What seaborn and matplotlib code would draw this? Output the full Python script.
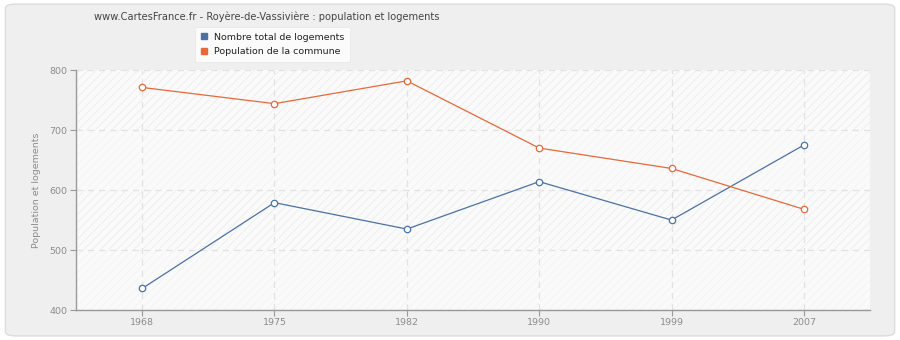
import matplotlib
matplotlib.use("Agg")
import matplotlib.pyplot as plt
from matplotlib.patches import FancyBboxPatch
from matplotlib.lines import Line2D
import seaborn as sns
import pandas as pd

years = ["1968", "1975", "1982", "1990", "1999", "2007"]
logements = [436, 579, 535, 614, 550, 675]
population = [771, 744, 782, 670, 636, 568]

series_names = ["Nombre total de logements", "Population de la commune"]
colors = ["#4a72a6", "#e8683a"]

sns.set_theme(style="white")
plt.rcParams["font.family"] = ["DejaVu Sans"]
plt.rcParams["hatch.linewidth"] = 0.5

fig = plt.figure(figsize=(9, 3.4), dpi=100, facecolor="white")
fig.patches.append(FancyBboxPatch((0.006, 0.012), 0.988, 0.976,
                                  boxstyle="round,pad=0,rounding_size=0.012",
                                  transform=fig.transFigure, facecolor="#efefef",
                                  edgecolor="#dcdcdc", linewidth=1.0, zorder=-10))

ax = fig.add_axes([0.0844, 0.088, 0.8823, 0.706])
ax.set_facecolor("#fafafa")

df = pd.DataFrame({"year": years * 2,
                   "value": logements + population,
                   "serie": [series_names[0]] * 6 + [series_names[1]] * 6})

for name, col in zip(series_names, colors):
    sns.lineplot(data=df[df["serie"] == name], x="year", y="value", ax=ax,
                 color=col, linewidth=0.9, marker="o", markersize=4.6,
                 markerfacecolor="white", markeredgecolor=col,
                 markeredgewidth=0.9, zorder=5, legend=False)

# striped background bands
for lo, hi, ec in [(700, 800, "#ebebeb"), (500, 600, "#ebebeb"),
                   (600, 700, "#f2f2f2"), (400, 500, "#f2f2f2")]:
    ax.axhspan(lo, hi, facecolor="none", edgecolor=ec, hatch="////",
               linewidth=0, zorder=0)

ax.set_xlim(-0.5, 5.5)
ax.set_ylim(400, 800)
ax.set_yticks([400, 500, 600, 700, 800])
ax.grid(True, color="#e2e2e2", linestyle=(0, (5, 4)), linewidth=0.9)
ax.set_axisbelow(True)

for s in ["top", "right"]:
    ax.spines[s].set_visible(False)
for s in ["left", "bottom"]:
    ax.spines[s].set_color("#999999")
    ax.spines[s].set_linewidth(1.0)

ax.tick_params(axis="both", colors="#999999", labelcolor="#8c8c8c",
               labelsize=6.8, length=4, width=0.8, direction="out",
               left=True, bottom=True, pad=2)
ax.set_xlabel("")
ax.set_ylabel("Population et logements", fontsize=6.8, color="#8c8c8c", labelpad=6)

fig.text(267 / 900, 1 - 17 / 340,
         "www.CartesFrance.fr - Royère-de-Vassivière : population et logements",
         ha="center", va="center", fontsize=7.1, color="#444444")

handles = [Line2D([], [], linestyle="none", marker="s", markersize=4.3,
                  markerfacecolor=c, markeredgecolor=c) for c in colors]
leg = fig.legend(handles, series_names, loc="upper left",
                 bbox_to_anchor=(195 / 900, 1 - 27 / 340), borderaxespad=0,
                 frameon=True, fontsize=6.8, handlelength=0.8, handletextpad=0.6,
                 borderpad=0.6, labelspacing=0.6, fancybox=True)
leg.get_frame().set_facecolor("white")
leg.get_frame().set_edgecolor("#e6e6e6")
leg.get_frame().set_linewidth(0.6)
for t in leg.get_texts():
    t.set_color("#222222")

fig.savefig("out.png", dpi=100, facecolor="white")
